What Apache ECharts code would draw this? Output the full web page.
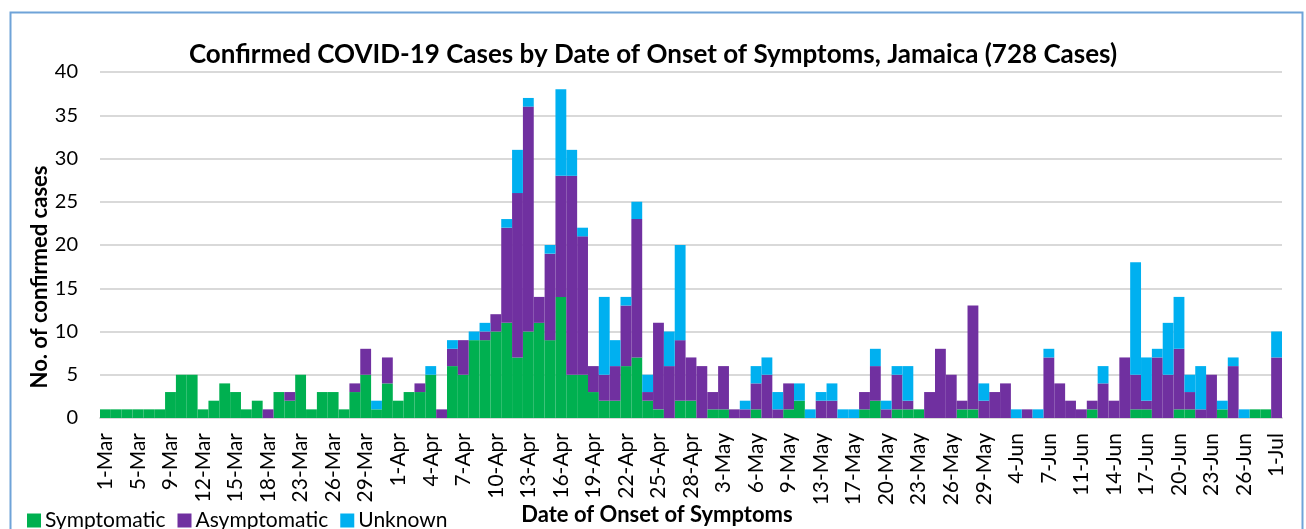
<!DOCTYPE html>
<html lang="en">
<head>
<meta charset="UTF-8">
<title>COVID-19 Jamaica onset</title>
<script src="https://cdn.jsdelivr.net/npm/echarts@6/dist/echarts.min.js"></script>
<style>
  html, body { margin: 0; padding: 0; background: #fff; }
  #main { width: 1306px; height: 529px; }
</style>
</head>
<body>
<div id="main"></div>
<script type="text/javascript">
// dates with at least one case (only every 3rd one is labelled)
var dates = [
  '1-Mar','3-Mar','4-Mar','5-Mar','7-Mar','8-Mar','9-Mar','10-Mar','11-Mar','12-Mar',
  '13-Mar','14-Mar','15-Mar','16-Mar','17-Mar','18-Mar','20-Mar','22-Mar','23-Mar','24-Mar',
  '25-Mar','26-Mar','27-Mar','28-Mar','29-Mar','30-Mar','31-Mar','1-Apr','2-Apr','3-Apr',
  '4-Apr','5-Apr','6-Apr','7-Apr','8-Apr','9-Apr','10-Apr','11-Apr','12-Apr','13-Apr',
  '14-Apr','15-Apr','16-Apr','17-Apr','18-Apr','19-Apr','20-Apr','21-Apr','22-Apr','23-Apr',
  '24-Apr','25-Apr','26-Apr','27-Apr','28-Apr','29-Apr','1-May','3-May','4-May','5-May',
  '6-May','7-May','8-May','9-May','10-May','12-May','13-May','14-May','15-May','17-May',
  '18-May','19-May','20-May','21-May','22-May','23-May','24-May','25-May','26-May','27-May',
  '28-May','29-May','30-May','1-Jun','4-Jun','5-Jun','6-Jun','7-Jun','8-Jun','10-Jun',
  '11-Jun','12-Jun','13-Jun','14-Jun','15-Jun','16-Jun','17-Jun','18-Jun','19-Jun','20-Jun',
  '21-Jun','22-Jun','23-Jun','24-Jun','25-Jun','26-Jun','28-Jun','30-Jun','1-Jul'
];

var symptomatic = [
  1,1,1,1,1,1,3,5,5,1, 2,4,3,1,2,0,3,2,5,1, 3,3,1,3,5,1,4,2,3,3,
  5,0,6,5,9,9,10,11,7,10, 11,9,14,5,5,3,2,2,6,7, 2,1,0,2,2,0,1,1,0,0,
  1,0,0,1,2,0,0,0,0,0, 1,2,0,1,1,1,0,0,0,1, 1,0,0,0,0,0,0,0,0,0,
  0,1,0,0,0,1,1,0,0,1, 1,0,0,1,0,0,1,1,0
];

var asymptomatic = [
  0,0,0,0,0,0,0,0,0,0, 0,0,0,0,0,1,0,1,0,0, 0,0,0,1,3,0,3,0,0,1,
  0,1,2,4,0,1,2,11,19,26, 3,10,14,23,16,3,3,4,7,16, 1,10,6,7,5,6,2,5,1,1,
  3,5,1,3,0,0,2,2,0,0, 2,4,1,4,1,0,3,8,5,1, 12,2,3,4,0,1,0,7,4,2,
  1,1,4,2,7,4,1,7,5,7, 2,1,5,0,6,0,0,0,7
];

var unknown = [
  0,0,0,0,0,0,0,0,0,0, 0,0,0,0,0,0,0,0,0,0, 0,0,0,0,0,1,0,0,0,0,
  1,0,1,0,1,1,0,1,5,1, 0,1,10,3,1,0,9,3,1,2, 2,0,4,11,0,0,0,0,0,1,
  2,2,2,0,2,1,1,2,1,1, 0,2,1,1,4,0,0,0,0,0, 0,2,0,0,1,0,1,1,0,0,
  0,0,2,0,0,13,5,1,6,6, 2,5,0,1,1,1,0,0,3
];

var fontFam = 'Lato, "Open Sans", sans-serif';

var myChart = echarts.init(document.getElementById('main'));

function bar(name, data, color) {
  return {
    name: name,
    type: 'bar',
    stack: 'cases',
    data: data,
    barCategoryGap: 0,
    itemStyle: { color: color },
    emphasis: { disabled: true }
  };
}

myChart.setOption({
  animation: false,
  textStyle: { fontFamily: fontFam },
  title: {
    text: 'Confirmed COVID-19 Cases by Date of Onset of Symptoms, Jamaica (728 Cases)',
    left: 'center',
    top: 37,
    textStyle: { fontSize: 26, fontWeight: 'bold', color: '#000', fontFamily: fontFam }
  },
  legend: {
    left: 22,
    top: 505,
    icon: 'rect',
    itemWidth: 14,
    itemHeight: 14,
    itemGap: 12,
    textStyle: { fontSize: 21, color: '#000', fontFamily: fontFam, padding: [0, 0, 0, -1] },
    data: ['Symptomatic', 'Asymptomatic', 'Unknown']
  },
  grid: { left: 100, right: 24, top: 72, bottom: 111 },
  xAxis: {
    type: 'category',
    data: dates,
    axisLine: { lineStyle: { color: '#d9d9d9', width: 2 } },
    axisTick: { show: false },
    axisLabel: {
      interval: 2,
      rotate: 90,
      fontSize: 21,
      color: '#000',
      margin: 15
    }
  },
  yAxis: {
    type: 'value',
    min: 0,
    max: 40,
    interval: 5,
    axisLine: { show: false },
    axisTick: { show: false },
    axisLabel: { fontSize: 20, color: '#000', margin: 22 },
    splitLine: { lineStyle: { color: '#d9d9d9', width: 2 } }
  },
  graphic: [{
    type: 'rect',
    shape: { x: 10.5, y: 12.5, width: 1292, height: 530 },
    style: { fill: 'none', stroke: '#6fa3d8', lineWidth: 2 },
    silent: true
  }, {
    // y axis title sits a bit below the axis middle in the original
    type: 'text',
    x: 40,
    y: 277,
    rotation: Math.PI / 2,
    style: {
      text: 'No. of confirmed cases',
      font: 'bold 22px ' + fontFam,
      fill: '#000',
      align: 'center',
      verticalAlign: 'middle'
    },
    silent: true
  }, {
    type: 'text',
    x: 657,
    y: 515,
    style: {
      text: 'Date of Onset of Symptoms',
      font: 'bold 22px ' + fontFam,
      fill: '#000',
      align: 'center',
      verticalAlign: 'middle'
    },
    silent: true
  }],
  series: [
    bar('Symptomatic', symptomatic, '#00b050'),
    bar('Asymptomatic', asymptomatic, '#7030a0'),
    bar('Unknown', unknown, '#00b0f0')
  ]
});
</script>
</body>
</html>
